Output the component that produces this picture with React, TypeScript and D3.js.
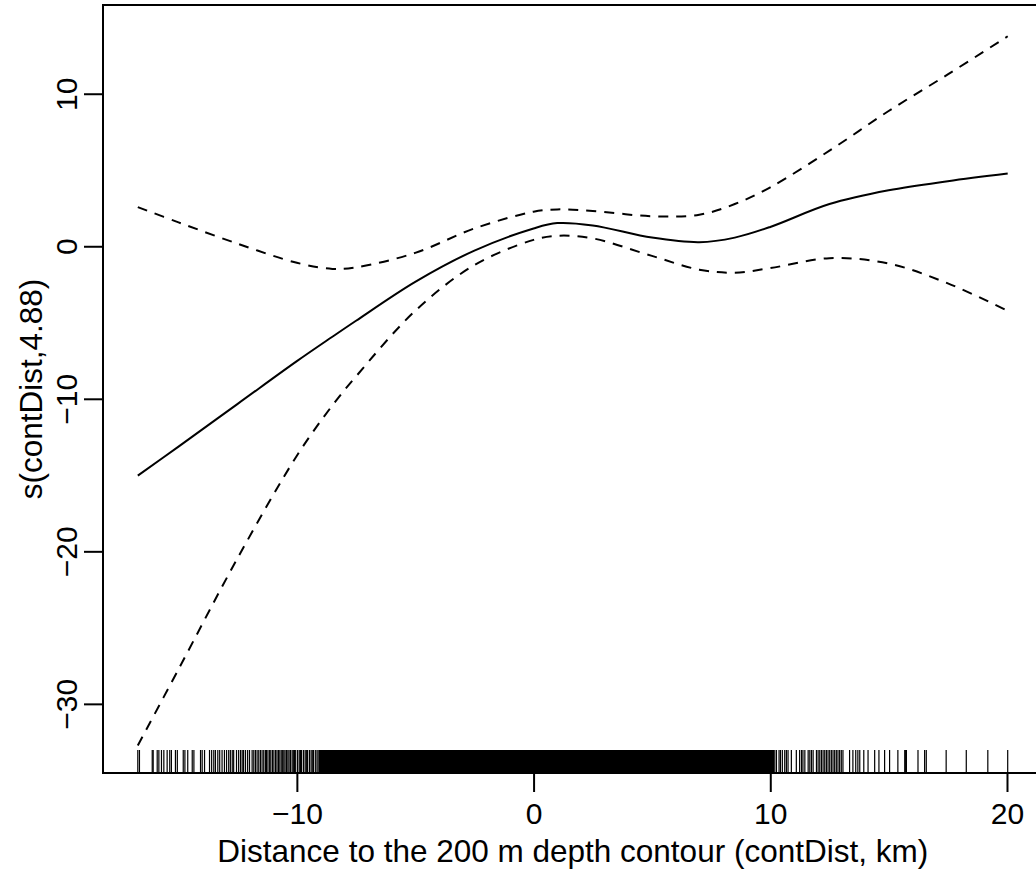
import React, { useEffect, useRef } from "react";
import * as d3 from "d3";

const gridX = [-16.72, -15, -12.5, -10, -8.5, -7.5, -5, -2.5, 0, 1, 2.5, 5, 7, 8.5, 10, 12.5, 15, 17.5, 20.03];
const fitY = [-15.0, -13.1, -10.3, -7.5, -5.9, -4.85, -2.3, -0.25, 1.2, 1.55, 1.4, 0.6, 0.3, 0.6, 1.3, 2.8, 3.7, 4.3, 4.8];
const upperY = [2.6, 1.6, 0.2, -1.05, -1.45, -1.35, -0.4, 1.2, 2.3, 2.45, 2.35, 2.0, 2.1, 2.8, 3.9, 6.3, 8.9, 11.3, 13.8];
const lowerY = [-32.7, -27.7, -20.4, -13.7, -10.4, -8.5, -4.2, -1.2, 0.45, 0.72, 0.55, -0.6, -1.5, -1.7, -1.4, -0.75, -1.1, -2.4, -4.2];

// rug: single observations in the thin parts
const rugSparse = [
  -16.72, -16.65, -16.11, -16.07, -15.9, -15.83, -15.72, -15.62, -15.48, -15.37, -15.3, -15.13, -15.05,
  -14.8, -14.73, -14.61, -14.42, -14.35, -14.07, -14.0, -13.9, -13.69, -13.6, -13.51, -13.44, -13.34,
  -13.26, -13.16, -13.06, -12.97, -12.88, -12.81, -12.73, -12.67, -12.55, -12.46, -12.38, -12.31, -12.25,
  -12.17, -12.08, -12.0, -11.89, -11.82, -11.75, -11.68, -11.61, -11.54, -11.47, -11.4, -11.33, -11.28,
  -11.22, -11.15, -11.1, -11.03, -10.97, -10.9, -10.84, -10.78, -10.72, -10.66, -10.6, -10.55, -10.5,
  -10.44, -10.38, -10.33, -10.27, -10.2, -10.15, -10.1, -10.05, -9.97, -9.9, -9.85, -9.8, -9.72, -9.65,
  -9.6, -9.55, -9.47, -9.4, -9.35, -9.3, -9.22, -9.15, -9.1,
  10.19, 10.26, 10.37, 10.43, 10.51, 10.61, 10.68, 10.75, 10.89, 11.1, 11.24, 11.32, 11.38, 11.46, 11.6,
  11.67, 11.74, 11.81, 11.95, 12.02, 12.09, 12.16, 12.23, 12.3, 12.37, 12.44, 12.51, 12.58, 12.65, 12.72,
  12.79, 12.86, 12.93, 13.0, 13.07, 13.35, 13.49, 13.61, 13.7, 13.78, 13.95, 14.13, 14.41, 14.59, 14.83,
  15.04, 15.39, 15.68, 15.72, 15.75, 16.24, 16.52, 16.59, 17.43, 18.28, 19.19, 20.03,
];

// rug: the packed middle, where the marks merge into a black band
const rugDense = [
  -9.0, -8.9, -8.8, -8.7, -8.6, -8.5, -8.4, -8.3, -8.2, -8.1, -8.0, -7.9, -7.8, -7.7, -7.6, -7.5, -7.4,
  -7.3, -7.2, -7.1, -7.0, -6.9, -6.8, -6.7, -6.6, -6.5, -6.4, -6.3, -6.2, -6.1, -6.0, -5.9, -5.8, -5.7,
  -5.6, -5.5, -5.4, -5.3, -5.2, -5.1, -5.0, -4.9, -4.8, -4.7, -4.6, -4.5, -4.4, -4.3, -4.2, -4.1, -4.0,
  -3.9, -3.8, -3.7, -3.6, -3.5, -3.4, -3.3, -3.2, -3.1, -3.0, -2.9, -2.8, -2.7, -2.6, -2.5, -2.4, -2.3,
  -2.2, -2.1, -2.0, -1.9, -1.8, -1.7, -1.6, -1.5, -1.4, -1.3, -1.2, -1.1, -1.0, -0.9, -0.8, -0.7, -0.6,
  -0.5, -0.4, -0.3, -0.2, -0.1, 0.0, 0.1, 0.2, 0.3, 0.4, 0.5, 0.6, 0.7, 0.8, 0.9, 1.0, 1.1, 1.2, 1.3,
  1.4, 1.5, 1.6, 1.7, 1.8, 1.9, 2.0, 2.1, 2.2, 2.3, 2.4, 2.5, 2.6, 2.7, 2.8, 2.9, 3.0, 3.1, 3.2, 3.3,
  3.4, 3.5, 3.6, 3.7, 3.8, 3.9, 4.0, 4.1, 4.2, 4.3, 4.4, 4.5, 4.6, 4.7, 4.8, 4.9, 5.0, 5.1, 5.2, 5.3,
  5.4, 5.5, 5.6, 5.7, 5.8, 5.9, 6.0, 6.1, 6.2, 6.3, 6.4, 6.5, 6.6, 6.7, 6.8, 6.9, 7.0, 7.1, 7.2, 7.3,
  7.4, 7.5, 7.6, 7.7, 7.8, 7.9, 8.0, 8.1, 8.2, 8.3, 8.4, 8.5, 8.6, 8.7, 8.8, 8.9, 9.0, 9.1, 9.2, 9.3,
  9.4, 9.5, 9.6, 9.7, 9.8, 9.9, 10.0, 10.1,
];

const xTicks = [-10, 0, 10, 20];
const yTicks = [-30, -20, -10, 0, 10];
const xTitle = "Distance to the 200 m depth contour (contDist, km)";
const yTitle = "s(contDist,4.88)";

const FONT = "'Liberation Sans', Arial, Helvetica, sans-serif";

const App = () => {
  const svgRef = useRef(null);

  useEffect(() => {
    const left = 103;
    const top = 5;
    const right = 1042.5; // plot region runs past the picture edge
    const bottom = 773;

    const x = d3.scaleLinear().domain([-18.19, 21.5]).range([left, right]);
    const y = d3.scaleLinear().domain([-34.5, 15.85]).range([bottom, top]);

    const svg = d3.select(svgRef.current);
    svg.selectAll("*").remove();

    svg.append("rect").attr("width", 1036).attr("height", 870).attr("fill", "#fff");

    const line = d3
      .line<number>()
      .x((d, i) => x(gridX[i]))
      .y((d) => y(d))
      .curve(d3.curveCatmullRom.alpha(0.5));

    svg
      .append("path")
      .attr("d", line(fitY))
      .attr("fill", "none")
      .attr("stroke", "#000")
      .attr("stroke-width", 2);

    [upperY, lowerY].forEach((band) => {
      svg
        .append("path")
        .attr("d", line(band))
        .attr("fill", "none")
        .attr("stroke", "#000")
        .attr("stroke-width", 2)
        .attr("stroke-dasharray", "10 8");
    });

    // rug
    const rugLen = 23;
    svg
      .append("g")
      .selectAll("line")
      .data(rugSparse)
      .join("line")
      .attr("x1", (d) => x(d))
      .attr("x2", (d) => x(d))
      .attr("y1", bottom)
      .attr("y2", bottom - rugLen)
      .attr("stroke", "#000")
      .attr("stroke-width", 1.2);

    svg
      .append("g")
      .attr("shape-rendering", "crispEdges")
      .selectAll("line")
      .data(rugDense)
      .join("line")
      .attr("x1", (d) => x(d))
      .attr("x2", (d) => x(d))
      .attr("y1", bottom)
      .attr("y2", bottom - rugLen)
      .attr("stroke", "#000")
      .attr("stroke-width", 3.4);

    // box
    svg
      .append("rect")
      .attr("x", left)
      .attr("y", top)
      .attr("width", right - left)
      .attr("height", bottom - top)
      .attr("fill", "none")
      .attr("stroke", "#000")
      .attr("stroke-width", 2);

    // x axis
    const xAxis = d3
      .axisBottom(x)
      .tickValues(xTicks)
      .tickSize(19)
      .tickPadding(10);

    const gx = svg.append("g").attr("transform", `translate(0,${bottom})`).call(xAxis);
    gx.select(".domain").remove();
    gx.selectAll(".tick line").attr("stroke-width", 2);
    gx.selectAll(".tick text")
      .attr("font-size", 30)
      .attr("font-family", FONT)
      .attr("fill", "#000")
      .attr("dy", null)
      .attr("y", 51);

    // y axis, labels parallel to the axis
    const gy = svg.append("g");
    gy.selectAll("line")
      .data(yTicks)
      .join("line")
      .attr("x1", left - 19)
      .attr("x2", left)
      .attr("y1", (d) => y(d))
      .attr("y2", (d) => y(d))
      .attr("stroke", "#000")
      .attr("stroke-width", 2);
    gy.selectAll("text")
      .data(yTicks)
      .join("text")
      .attr("transform", (d) => `translate(77,${y(d)}) rotate(-90)`)
      .attr("text-anchor", "middle")
      .attr("font-size", 30)
      .attr("font-family", FONT)
      .text((d) => d3.format("")(d));

    svg
      .append("text")
      .attr("x", (left + right) / 2)
      .attr("y", 862)
      .attr("text-anchor", "middle")
      .attr("font-size", 31.5)
      .attr("font-family", FONT)
      .text(xTitle);

    svg
      .append("text")
      .attr("transform", `translate(42,${(top + bottom) / 2}) rotate(-90)`)
      .attr("text-anchor", "middle")
      .attr("font-size", 31.5)
      .attr("font-family", FONT)
      .text(yTitle);
  }, []);

  return (
    <svg
      ref={svgRef}
      width={1036}
      height={870}
      style={{ position: "absolute", left: 0, top: 0 }}
    ></svg>
  );
};

export default App;
